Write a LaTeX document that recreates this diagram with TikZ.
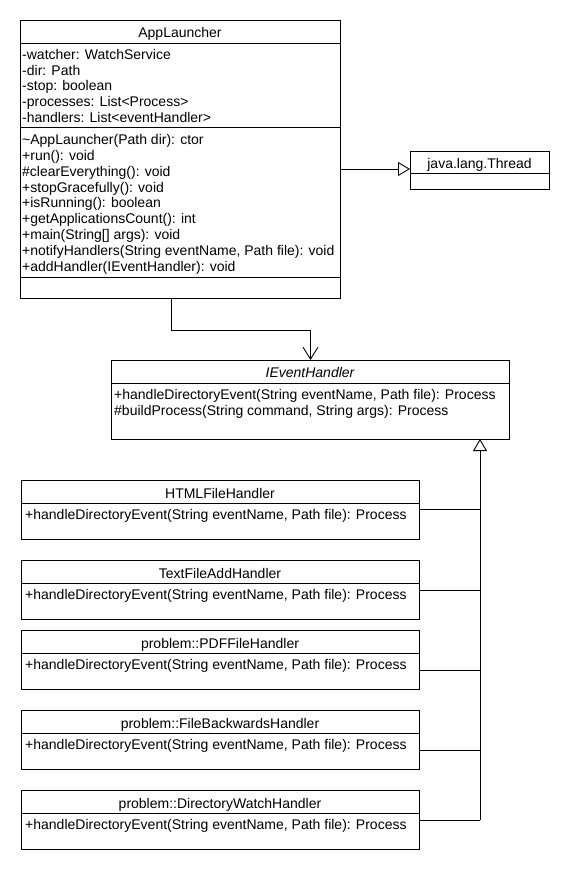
\documentclass[tikz,border=0pt]{standalone}
\usepackage{fontspec}
\setmainfont{Liberation Sans}
\usetikzlibrary{arrows.meta}
\tikzset{
  umlbox/.style={draw=black, line width=0.9pt, anchor=north west, inner sep=0pt, outer sep=0pt, fill=white},
  title/.style={anchor=base, inner sep=0pt, font=\fontsize{14}{16}\selectfont},
  members/.style={anchor=north west, inner sep=0pt, align=left, font=\fontsize{14}{15.9}\selectfont},
  sepline/.style={line width=0.9pt},
  conn/.style={line width=0.9pt},
  inherit/.style={conn, -{Triangle[open, length=12pt, width=14pt, line width=0.9pt]}},
  assoc/.style={conn, -{Straight Barb[length=12pt, width=15pt, line width=0.9pt]}},
}
\begin{document}
\begin{tikzpicture}[x=1pt, y=-1pt]
\useasboundingbox[fill=white] (0,0) rectangle (570,870);

% ---------- AppLauncher ----------
\node[umlbox, minimum width=320pt, minimum height=278pt] (app) at (20,20) {};
\draw[sepline] ([yshift=-23.5pt]app.north west) -- ([yshift=-23.5pt]app.north east);
\draw[sepline] ([yshift=-107.5pt]app.north west) -- ([yshift=-107.5pt]app.north east);
\draw[sepline] ([yshift=-257pt]app.north west) -- ([yshift=-257pt]app.north east);
\node[title] (appT) at (180,37.5) {AppLauncher};
\node[members] (appA) at (22,47.8) {\strut-watcher: WatchService\\\strut-dir: Path\\\strut-stop: boolean\\\strut-processes: List<Process>\\\strut-handlers: List<eventHandler>};
\node[members] (appM) at (22,133) {\strut\textasciitilde AppLauncher(Path dir): ctor\\\strut+run(): void\\\strut\#clearEverything(): void\\\strut+stopGracefully(): void\\\strut+isRunning(): boolean\\\strut+getApplicationsCount(): int\\\strut+main(String[] args): void\\\strut+notifyHandlers(String eventName, Path file): void\\\strut+addHandler(IEventHandler): void};

% ---------- java.lang.Thread ----------
\node[umlbox, minimum width=139pt, minimum height=38pt] (thr) at (410,151) {};
\draw[sepline] ([yshift=-22pt]thr.north west) -- ([yshift=-22pt]thr.north east);
\node[title] (thrT) at (479.5,168) {java.lang.Thread};

% ---------- IEventHandler ----------
\node[umlbox, minimum width=398pt, minimum height=79pt] (ieh) at (111,360) {};
\draw[sepline] ([yshift=-23pt]ieh.north west) -- ([yshift=-23pt]ieh.north east);
\node[title] (iehT) at (310,377.5) {\itshape IEventHandler};
\node[members] (iehM) at (114,387.8) {\strut+handleDirectoryEvent(String eventName, Path file): Process\\\strut\#buildProcess(String command, String args): Process};

% ---------- handlers ----------
\node[umlbox, minimum width=398pt, minimum height=58.5pt] (h1) at (21,480.5) {};
\node[umlbox, minimum width=398pt, minimum height=58.5pt] (h2) at (21,560.5) {};
\node[umlbox, minimum width=398pt, minimum height=58.5pt] (h3) at (21,630.5) {};
\node[umlbox, minimum width=398pt, minimum height=58.5pt] (h4) at (21,710.5) {};
\node[umlbox, minimum width=398pt, minimum height=58.5pt] (h5) at (21,790.5) {};
\foreach \h in {h1,h2,h3,h4,h5}{
  \draw[sepline] ([yshift=-22.7pt]\h.north west) -- ([yshift=-22.7pt]\h.north east);
}
\node[title] (h1T) at (220,498.3) {HTMLFileHandler};
\node[title] (h2T) at (220,578.3) {TextFileAddHandler};
\node[title] (h3T) at (220,648.3) {problem::PDFFileHandler};
\node[title] (h4T) at (220,728.3) {problem::FileBackwardsHandler};
\node[title] (h5T) at (220,808.3) {problem::DirectoryWatchHandler};
\node[members] (h1M) at (25,508.5) {\strut+handleDirectoryEvent(String eventName, Path file): Process};
\node[members] (h2M) at (25,588.5) {\strut+handleDirectoryEvent(String eventName, Path file): Process};
\node[members] (h3M) at (25,658.5) {\strut+handleDirectoryEvent(String eventName, Path file): Process};
\node[members] (h4M) at (25,738.5) {\strut+handleDirectoryEvent(String eventName, Path file): Process};
\node[members] (h5M) at (25,818.5) {\strut+handleDirectoryEvent(String eventName, Path file): Process};

% ---------- connectors ----------
\coordinate (thrIn) at (thr.west |- 0,169);
\draw[inherit] (app.east |- thrIn) -- (thrIn);

\coordinate (appOut) at (app.south -| 171.5,0);
\coordinate (iehIn) at (ieh.north -| 310.5,0);
\draw[assoc] (appOut) -- (171.5,330) -- (310.5,330) -- (iehIn);

\coordinate (busTop) at (ieh.south -| 480,0);
\coordinate (busBot) at (480,820);
\draw[inherit] (busBot) -- (busTop);
\draw[conn] (h1.east |- 0,509.5) -- (480,509.5);
\draw[conn] (h2.east |- 0,590) -- (480,590);
\draw[conn] (h3.east |- 0,670.5) -- (480,670.5);
\draw[conn] (h4.east |- 0,750.5) -- (480,750.5);
\draw[conn] (h5.east |- busBot) -- (busBot);
\end{tikzpicture}
\end{document}
